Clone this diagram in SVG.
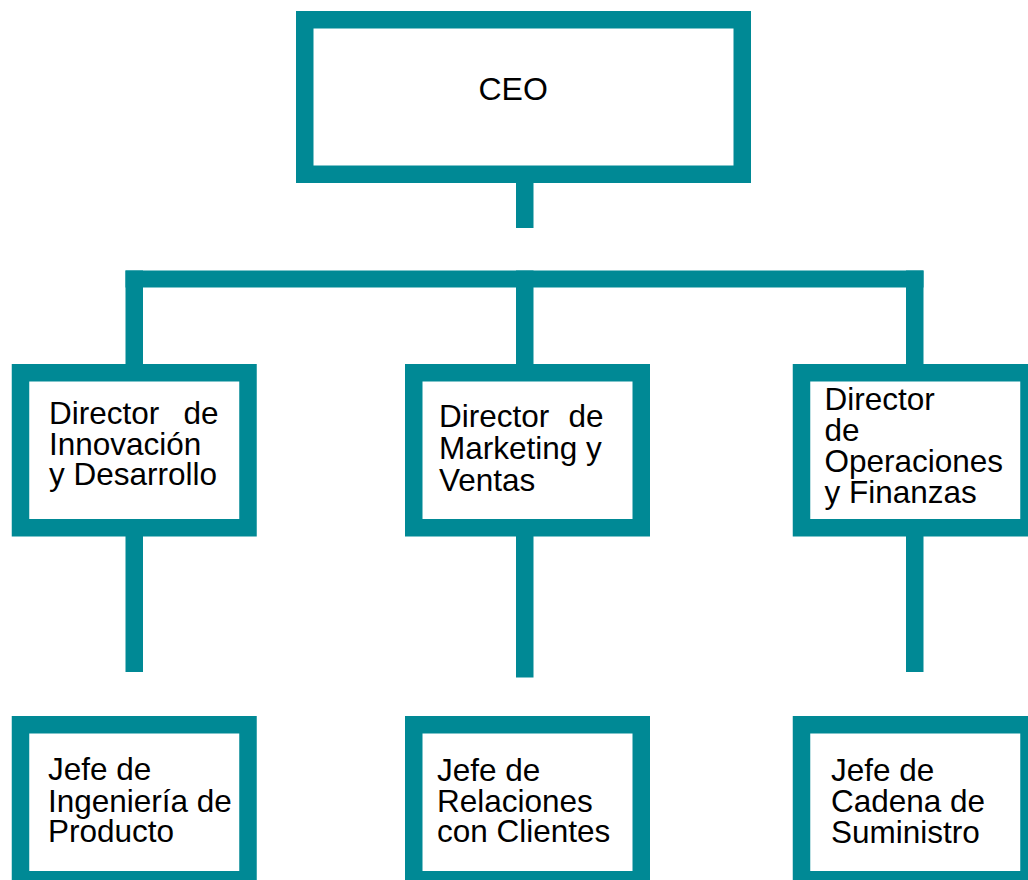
<svg xmlns="http://www.w3.org/2000/svg" width="1028" height="880" viewBox="0 0 1028 880">
  <style>
    .box { fill: #ffffff; stroke: #008995; stroke-width: 17.5; }
    .bar { fill: #008995; }
    .t { font-family: "Liberation Sans", Arial, sans-serif; font-size: 31.5px; fill: #000000; }
    .ceo { font-family: "Liberation Sans", Arial, sans-serif; font-size: 32px; fill: #000000; }
  </style>
  <rect width="1028" height="880" fill="#ffffff"/>
  <g id="connectors">
    <rect class="bar" x="516" y="180" width="17.5" height="48"/>
    <rect class="bar" x="125.5" y="270.5" width="798" height="17"/>
    <rect class="bar" x="125.5" y="270.5" width="17.5" height="96"/>
    <rect class="bar" x="516" y="270.5" width="17.5" height="96"/>
    <rect class="bar" x="906" y="270.5" width="17.5" height="96"/>
    <rect class="bar" x="125.5" y="534" width="17.5" height="138"/>
    <rect class="bar" x="516" y="534" width="17.5" height="143.5"/>
    <rect class="bar" x="906" y="534" width="17.5" height="138"/>
  </g>
  <g id="ceo">
    <rect class="box" x="304.75" y="19.75" width="437.5" height="154.5"/>
    <text class="ceo" x="478.5" y="99.5">CEO</text>
  </g>
  <g id="dir-innovacion">
    <rect class="box" x="20.5" y="372.75" width="227.5" height="155"/>
    <text class="t" x="49" y="424">Director</text>
    <text class="t" x="218.5" y="424" text-anchor="end">de</text>
    <text class="t" x="49" y="455">Innovación</text>
    <text class="t" x="49" y="485">y Desarrollo</text>
  </g>
  <g id="dir-marketing">
    <rect class="box" x="413.75" y="372.75" width="227.5" height="155"/>
    <text class="t" x="439" y="427">Director</text>
    <text class="t" x="603.5" y="427" text-anchor="end">de</text>
    <text class="t" x="439" y="459">Marketing y</text>
    <text class="t" x="439" y="491">Ventas</text>
  </g>
  <g id="dir-operaciones">
    <rect class="box" x="801.5" y="372.75" width="227.5" height="155"/>
    <text class="t" x="824.5" y="409.5">Director</text>
    <text class="t" x="824.5" y="441">de</text>
    <text class="t" x="824.5" y="472">Operaciones</text>
    <text class="t" x="824.5" y="503">y Finanzas</text>
  </g>
  <g id="jefe-ingenieria">
    <rect class="box" x="20.5" y="724.75" width="227.5" height="155"/>
    <text class="t" x="48" y="780">Jefe de</text>
    <text class="t" x="48" y="811.5">Ingeniería de</text>
    <text class="t" x="48" y="842">Producto</text>
  </g>
  <g id="jefe-relaciones">
    <rect class="box" x="413.75" y="724.75" width="227.5" height="155"/>
    <text class="t" x="437" y="780.5">Jefe de</text>
    <text class="t" x="437" y="811.5">Relaciones</text>
    <text class="t" x="437" y="842">con Clientes</text>
  </g>
  <g id="jefe-cadena">
    <rect class="box" x="801.5" y="724.75" width="227.5" height="155"/>
    <text class="t" x="831" y="780.5">Jefe de</text>
    <text class="t" x="831" y="811.5">Cadena de</text>
    <text class="t" x="831" y="843">Suministro</text>
  </g>
</svg>
